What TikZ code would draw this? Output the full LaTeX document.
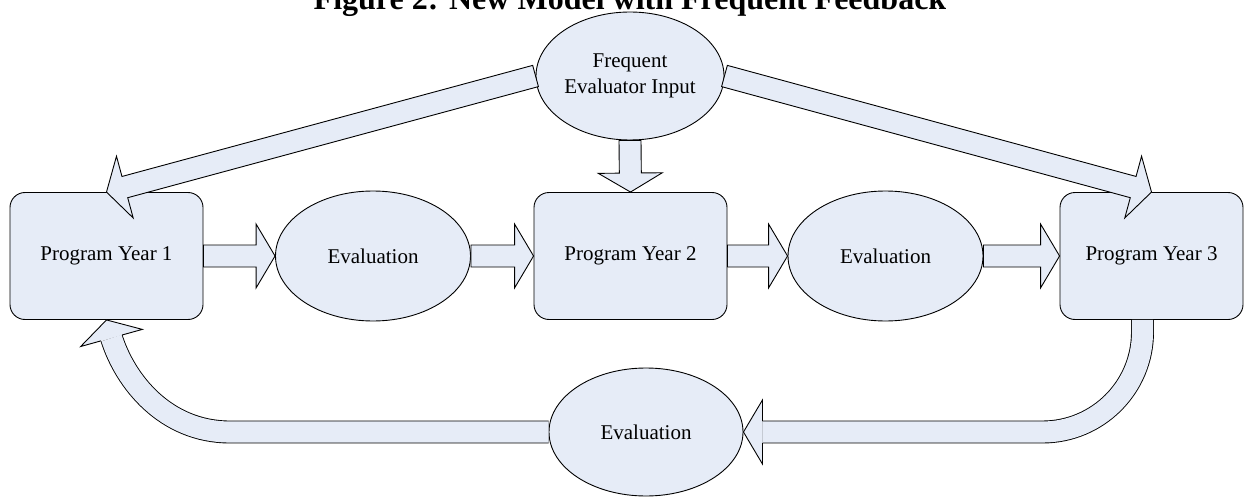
\documentclass[tikz,border=0pt]{standalone}
\usepackage{fontspec}
\setmainfont{Liberation Serif}
\usepackage{tikz}
\usetikzlibrary{calc,shapes.geometric}
\definecolor{ogfill}{RGB}{230,236,247}
\tikzset{
  pybox/.style={draw=black, rounded corners=15pt, line width=0.9pt, fill=ogfill, align=center, inner sep=0pt,
    minimum width=193pt, minimum height=127pt, font=\fontsize{21}{25}\selectfont},
  evnode/.style={ellipse, draw=black, line width=0.9pt, fill=ogfill, align=center, inner sep=0pt,
    minimum width=195pt, minimum height=130pt, font=\fontsize{21}{26}\selectfont},
  blockarr/.style={draw=black, line width=0.9pt, fill=ogfill, line join=miter},
  bentshaft/.style={draw=black, line width=0.9pt, double=ogfill, double distance=21.1pt}
}
% straight block arrow: tail #1, tip #2
\newcommand{\blockarrow}[2]{%
  \coordinate (h) at ($(#2)!19pt!(#1)$);
  \draw[blockarr] ($(#1)!11pt!90:(#2)$) -- ($(h)!11pt!90:(#2)$) -- ($(h)!32pt!90:(#2)$) -- (#2)
    -- ($(h)!32pt!-90:(#2)$) -- ($(h)!11pt!-90:(#2)$) -- ($(#1)!11pt!-90:(#2)$) -- cycle;
}
% head only, for the bent shafts: base #1, tip #2
\newcommand{\blockhead}[2]{%
  \draw[blockarr] ($(#1)!11pt!90:(#2)$) -- ($(#1)!32pt!90:(#2)$) -- (#2)
    -- ($(#1)!32pt!-90:(#2)$) -- ($(#1)!11pt!-90:(#2)$);
}

\begin{document}
\begin{tikzpicture}[x=1pt, y=-1pt]
  \clip (0,0) rectangle (1244,497);
  \node[anchor=base, font=\fontsize{32}{38}\selectfont\bfseries] (title) at (630,10)
    {Figure 2: New Model with Frequent Feedback};

  \node[pybox] (py1) at (106.5,256) {\raisebox{-2pt}{Program Year 1}};
  \node[evnode] (ev1) at (373,256) {\raisebox{-2pt}{Evaluation}};
  \node[pybox] (py2) at (630.5,256) {\raisebox{-2pt}{Program Year 2}};
  \node[evnode] (ev2) at (885.5,256) {\raisebox{-2pt}{Evaluation}};
  \node[pybox, minimum width=183pt] (py3) at (1151.5,256) {\raisebox{-2pt}{Program Year 3}};
  \node[evnode, minimum width=188pt, minimum height=128pt] (fei) at (630,76) {Frequent\\Evaluator Input};
  \node[evnode, minimum width=194pt, minimum height=128pt] (ev3) at (646,432) {\raisebox{-2pt}{Evaluation}};

  \blockarrow{py1.east}{ev1.west}
  \blockarrow{ev1.east}{py2.west}
  \blockarrow{py2.east}{ev2.west}
  \blockarrow{ev2.east}{py3.west}
  \blockarrow{fei.west}{py1.north}
  \blockarrow{fei.south}{py2.north}
  \blockarrow{fei.east}{py3.north}

  % feedback loop round the bottom
  \coordinate (h8) at ([xshift=19pt]ev3.east);
  \coordinate (h9) at ($(py1.south)+(5,18)$);
  \draw[bentshaft, rounded corners=100pt] ([xshift=-9pt]py3.south) |- (h8);
  \blockhead{h8}{ev3.east}
  \draw[bentshaft] (ev3.west) -- (230,432) .. controls (165,432) and (125,381) .. (h9);
  \blockhead{h9}{py1.south}
\end{tikzpicture}
\end{document}
